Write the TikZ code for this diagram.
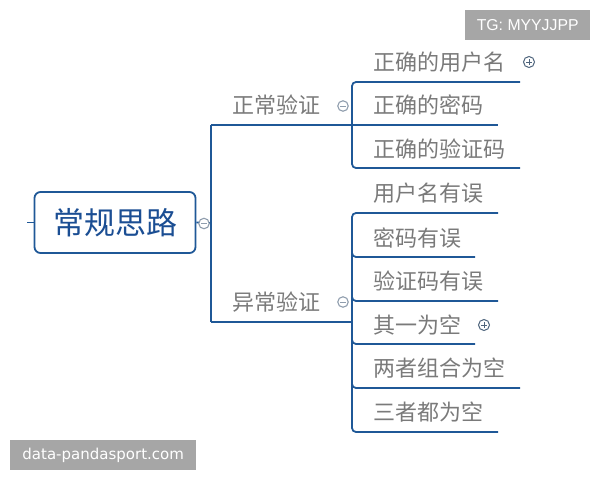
\documentclass[tikz,border=0pt]{standalone}
\usepackage{fontspec}
\setmainfont{Liberation Sans}
\newfontfamily\cjk{Noto Sans CJK SC}
\newfontfamily\wmsans{DejaVu Sans}
\definecolor{brblue}{HTML}{1F5897}
\definecolor{rootblue}{HTML}{1B4E93}
\definecolor{txtgray}{HTML}{7A7A7A}
\definecolor{wmgray}{HTML}{A6A6A6}
\definecolor{togglegray}{HTML}{8F9DAD}
\definecolor{plusgray}{HTML}{4E647C}
\begin{document}
\begin{tikzpicture}[x=1pt,y=-1pt,
  br/.style={draw=brblue,line width=1.8pt,rounded corners=4pt},
  topic/.style={anchor=west,inner sep=0pt,text=txtgray,font=\cjk\fontsize{22pt}{22pt}\selectfont},
  rootbox/.style={draw=brblue,line width=1.8pt,rounded corners=6pt,minimum width=161pt,minimum height=61pt,inner sep=0pt,text=rootblue,font=\cjk\fontsize{31pt}{31pt}\selectfont},
  minus/.style={circle,draw=togglegray,fill=white,line width=1.1pt,minimum size=10.5pt,inner sep=0pt},
  plus/.style={circle,draw=plusgray,fill=white,line width=1pt,minimum size=11pt,inner sep=0pt},
  wmbox/.style={fill=wmgray,text=white,inner sep=0pt,anchor=north west}]
\useasboundingbox (0,0) rectangle (600,480);
% root
\node[rootbox] (root) at (115,222.5) {常规思路};
\coordinate (stub) at (27,222.5);
\draw[brblue,line width=1.8pt] (stub) -- (root.west);
% trunk
\coordinate (tmid) at (211,223);
\coordinate (ttop) at (211,125);
\coordinate (tbot) at (211,322);
\coordinate (g1) at (352,125);
\coordinate (g2) at (352,322);
\draw[brblue,line width=1.8pt] (root.east) -- (tmid);
\draw[brblue,line width=1.8pt] (ttop) -- (tbot);
\draw[brblue,line width=1.8pt] (ttop) -- (g1);
\draw[brblue,line width=1.8pt] (tbot) -- (g2);
\node[minus] (rc) at (204,223.5) {};
\draw[togglegray,line width=1pt] ([xshift=-2.7pt]rc.center) -- ([xshift=2.7pt]rc.center);
% level 1 labels
\node[topic] (n1) at (232,105) {正常验证};
\node[topic] (n2) at (232,302) {异常验证};
% group 1 lines
\coordinate (a1) at (520,82);
\coordinate (a2) at (498,125);
\coordinate (a3) at (520,168);
\draw[br] (a1) -- (352,82) -- (352,168) -- (a3);
\draw[brblue,line width=1.8pt] (g1) -- (a2);
\node[topic] (c1) at (373,62) {正确的用户名};
\node[topic] (c2) at (373,105) {正确的密码};
\node[topic] (c3) at (373,149) {正确的验证码};
\node[minus] (m1) at (343,106) {};
\draw[togglegray,line width=1pt] ([xshift=-2.7pt]m1.center) -- ([xshift=2.7pt]m1.center);
\node[plus] (p1) at (529,62) {};
\draw[plusgray,line width=0.9pt] ([xshift=-2.6pt]p1.center) -- ([xshift=2.6pt]p1.center) ([yshift=-2.6pt]p1.center) -- ([yshift=2.6pt]p1.center);
% group 2 lines
\coordinate (b1) at (498,213);
\coordinate (b2) at (475,257);
\coordinate (b3) at (498,301);
\coordinate (b4) at (475,344);
\coordinate (b5) at (520,388);
\coordinate (b6) at (498,432);
\draw[br] (b1) -- (352,213) -- (352,432) -- (b6);
\draw[br] (352,240) |- (b2);
\draw[br] (352,285) |- (b3);
\draw[br] (352,328) |- (b4);
\draw[br] (352,370) |- (b5);
\node[topic] (d1) at (373,193) {用户名有误};
\node[topic] (d2) at (373,238) {密码有误};
\node[topic] (d3) at (373,281) {验证码有误};
\node[topic] (d4) at (373,325) {其一为空};
\node[topic] (d5) at (373,368) {两者组合为空};
\node[topic] (d6) at (373,412) {三者都为空};
\node[minus] (m2) at (343,302) {};
\draw[togglegray,line width=1pt] ([xshift=-2.7pt]m2.center) -- ([xshift=2.7pt]m2.center);
\node[plus] (p2) at (484,325) {};
\draw[plusgray,line width=0.9pt] ([xshift=-2.6pt]p2.center) -- ([xshift=2.6pt]p2.center) ([yshift=-2.6pt]p2.center) -- ([yshift=2.6pt]p2.center);
% watermarks
\node[wmbox,minimum width=125pt,minimum height=30pt] (wm1) at (465,10) {};
\node[text=white,font=\fontsize{15.8pt}{15.8pt}\selectfont,inner sep=0pt] (wm1t) at (wm1.center) {TG: MYYJJPP};
\node[wmbox,minimum width=186pt,minimum height=30pt] (wm2) at (10,440) {};
\node[text=white,font=\wmsans\fontsize{15pt}{15pt}\selectfont,inner sep=0pt] (wm2t) at (wm2.center) {data-pandasport.com};
\end{tikzpicture}
\end{document}
